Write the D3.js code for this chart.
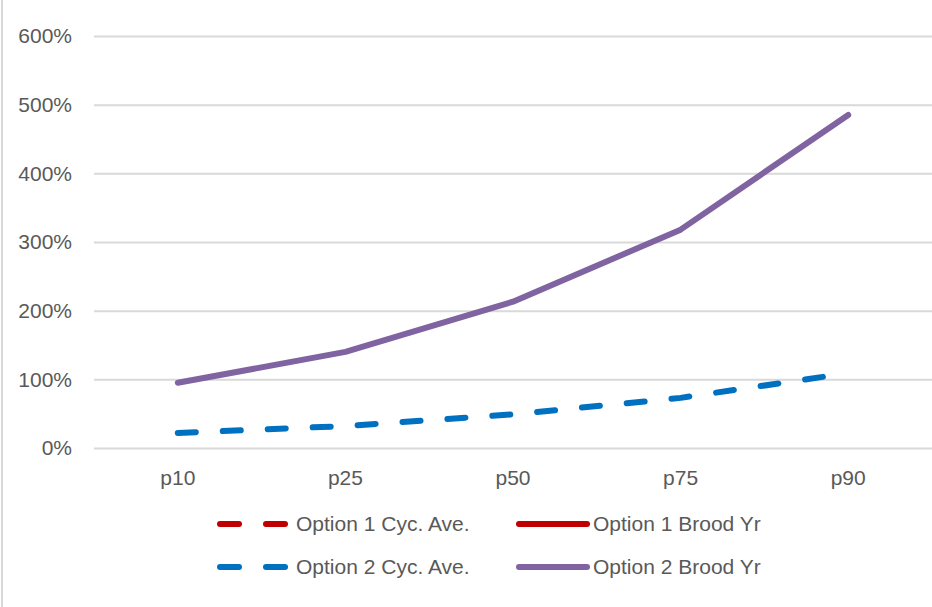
<!DOCTYPE html>
<html>
<head>
<meta charset="utf-8">
<script src="https://cdn.jsdelivr.net/npm/d3@7"></script>
<style>
  html, body { margin: 0; padding: 0; background: #fff; }
  svg { display: block; font-family: "Liberation Sans", Arial, sans-serif; }
</style>
</head>
<body>
<svg id="chart" width="932" height="607"></svg>
<script>
// Percentile categories and series (fraction of baseline)
const categories = ["p10", "p25", "p50", "p75", "p90"];
const option1CycAve = [null, null, null, null, null];
const option1BroodYr = [null, null, null, null, null];
const option2CycAve = [0.22, 0.32, 0.49, 0.73, 1.09];
const option2BroodYr = [0.95, 1.40, 2.13, 3.18, 4.85];
const yTicks = [0, 1, 2, 3, 4, 5, 6];

const series = [
  { name: "Option 1 Cyc. Ave.", values: option1CycAve, color: "#C00000", dashed: true },
  { name: "Option 1 Brood Yr", values: option1BroodYr, color: "#C00000", dashed: false },
  { name: "Option 2 Cyc. Ave.", values: option2CycAve, color: "#0070C0", dashed: true },
  { name: "Option 2 Brood Yr", values: option2BroodYr, color: "#8064A2", dashed: false }
];

const svg = d3.select("#chart");
const W = 932, H = 607;
const plot = { left: 94, right: 932, top: 36, bottom: 448 };

// outer frame edge on the left
svg.append("line")
  .attr("x1", 2).attr("x2", 2).attr("y1", 0).attr("y2", H)
  .attr("stroke", "#d9d9d9").attr("stroke-width", 2);

const x = d3.scaleBand().domain(categories).range([plot.left, plot.right]).padding(0);
const y = d3.scaleLinear().domain([0, 6]).range([plot.bottom, plot.top]);

// horizontal gridlines + y labels
const yAxis = d3.axisLeft(y).tickValues(yTicks)
  .tickSize(-(plot.right - plot.left))
  .tickPadding(22)
  .tickFormat(d => d3.format(".0%")(d));
const gy = svg.append("g").attr("transform", `translate(${plot.left},0)`).call(yAxis);
gy.select(".domain").remove();
gy.selectAll(".tick line").attr("stroke", "#d9d9d9").attr("stroke-width", 2);
gy.selectAll(".tick text").attr("fill", "#595959").attr("font-size", 21);

// x category labels
const xAxis = d3.axisBottom(x).tickSize(0).tickPadding(22);
const gx = svg.append("g").attr("transform", `translate(0,${plot.bottom})`).call(xAxis);
gx.select(".domain").remove();
gx.selectAll(".tick text").attr("fill", "#595959").attr("font-size", 21);

// series lines
const line = d3.line()
  .defined(d => d.v != null)
  .x(d => x(d.c) + x.bandwidth() / 2)
  .y(d => y(d.v));

series.forEach(s => {
  const pts = categories.map((c, i) => ({ c, v: s.values[i] }));
  svg.append("path")
    .datum(pts)
    .attr("d", line)
    .attr("fill", "none")
    .attr("stroke", s.color)
    .attr("stroke-width", 6)
    .attr("stroke-linecap", "round")
    .attr("stroke-linejoin", "round")
    .attr("stroke-dasharray", s.dashed ? "18,27" : null);
});

// legend (two columns, two rows)
const legendPos = [
  { x: 217, y: 524 }, { x: 516, y: 524 },
  { x: 217, y: 567 }, { x: 516, y: 567 }
];
series.forEach((s, i) => {
  const p = legendPos[i];
  const g = svg.append("g").attr("transform", `translate(${p.x},${p.y})`);
  if (s.dashed) {
    [0, 46].forEach(dx => {
      g.append("line").attr("x1", dx + 3).attr("x2", dx + 22).attr("y1", 0).attr("y2", 0)
        .attr("stroke", s.color).attr("stroke-width", 6).attr("stroke-linecap", "round");
    });
    g.append("text").attr("x", 79).attr("y", 0).attr("dy", "0.35em")
      .attr("fill", "#595959").attr("font-size", 21).text(s.name);
  } else {
    g.append("line").attr("x1", 3).attr("x2", 71).attr("y1", 0).attr("y2", 0)
      .attr("stroke", s.color).attr("stroke-width", 6).attr("stroke-linecap", "round");
    g.append("text").attr("x", 77).attr("y", 0).attr("dy", "0.35em")
      .attr("fill", "#595959").attr("font-size", 21).text(s.name);
  }
});
</script>
</body>
</html>
